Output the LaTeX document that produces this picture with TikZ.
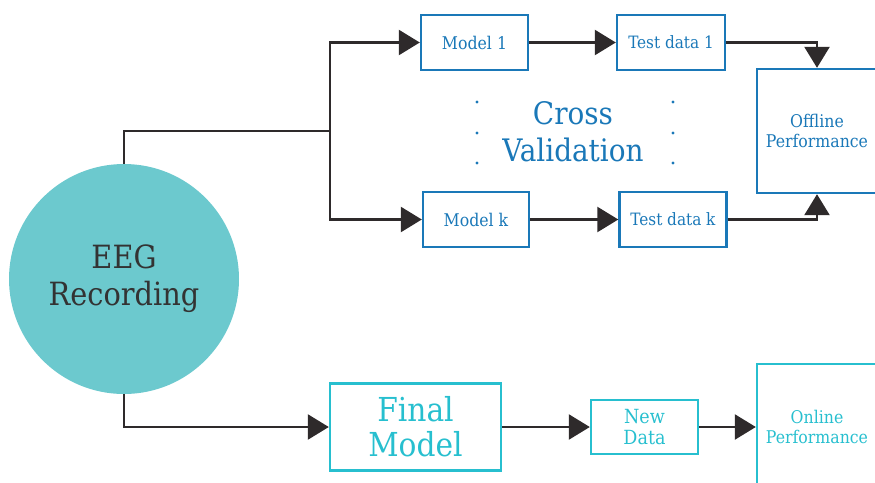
\documentclass[tikz,border=0pt]{standalone}
\usepackage{fontspec}
\setmainfont{DejaVu Serif Condensed}
\usetikzlibrary{arrows.meta,positioning}
\definecolor{cvblue}{HTML}{1A78B8}
\definecolor{oncyan}{HTML}{27BFCF}
\definecolor{eegfill}{HTML}{6CC9CE}
\definecolor{linkgray}{HTML}{2E2A2B}
\definecolor{eegtext}{HTML}{333333}

\begin{document}
\begin{tikzpicture}[x=1pt, y=-1pt,
				box/.style={draw, line width=2.4pt, inner sep=0pt, align=center, font=\fontsize{17.5}{20}\selectfont},
				cvbox/.style={box, draw=cvblue, text=cvblue},
				onbox/.style={box, draw=oncyan, text=oncyan},
				link/.style={draw=linkgray, line width=2.5pt},
				>={Triangle[length=21pt,width=25pt]}]
				\useasboundingbox (0,0) rectangle (875,482);
				% recording
				\node[circle, fill=eegfill, minimum size=230pt, inner sep=0pt, align=center, text=eegtext, font=\fontsize{32}{37}\selectfont] (eeg) at (124,279) {EEG\\Recording};
				% cross validation
				\node[cvbox, minimum width=107pt, minimum height=55pt] (m1) at (474.5,42.5) {Model 1};
				\node[cvbox, minimum width=108pt, minimum height=55pt, font=\fontsize{17}{20}\selectfont] (t1) at (671,42.5) {Test data 1};
				\node[cvbox, minimum width=106pt, minimum height=55pt] (mk) at (476,219.5)  {Model k};
				\node[cvbox, minimum width=107pt, minimum height=55pt, font=\fontsize{17}{20}\selectfont] (tk) at (673,219.5) {Test data k};
				\node[cvbox, minimum width=120pt, minimum height=124pt] (off) at (817,131)  {Offline\\Performance};
				\node[text=cvblue, align=center, font=\fontsize{31}{37}\selectfont] (cv) at (573,132) {Cross\\Validation};
				\foreach \y in {102,133,163} {
					\fill[cvblue] (477,\y) circle (1.6pt);
					\fill[cvblue] (673,\y) circle (1.6pt);
				}
				% online
				\node[onbox, minimum width=171pt, minimum height=87pt, font=\fontsize{33}{35}\selectfont] (final) at (415.5,427) {Final\\Model};
				\node[onbox, minimum width=107pt, minimum height=54pt, font=\fontsize{19.5}{21}\selectfont] (new) at (644.5,427) {New\\Data};
				\node[onbox, minimum width=120pt, minimum height=126pt] (online) at (817,427) {Online\\Performance};
				% connectors
				\coordinate (split) at (330,131);
				\draw[link] (eeg.north) |- (split);
				\draw[link,->] (split) |- (m1.west);
				\draw[link,->] (split) |- (mk.west);
				\draw[link,->] (eeg.south) |- (final.west);
				\draw[link,->] (m1) -- (t1);
				\draw[link,->] (t1.east) -| (off.north);
				\draw[link,->] (mk) -- (tk);
				\draw[link,->] (tk.east) -| (off.south);
				\draw[link,->] (final) -- (new);
				\draw[link,->] (new) -- (online);
			\end{tikzpicture}
\end{document}
